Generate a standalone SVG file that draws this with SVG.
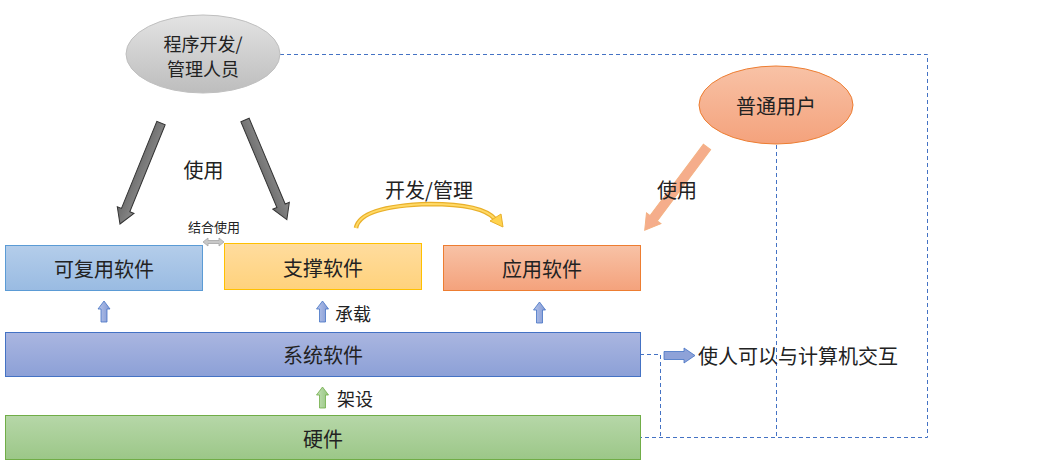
<svg xmlns="http://www.w3.org/2000/svg" width="1037" height="467" viewBox="0 0 1037 467">
<defs>
<linearGradient id="gGray" x1="0" y1="0" x2="0" y2="1"><stop offset="0" stop-color="#e3e3e3"/><stop offset="1" stop-color="#bdbdbd"/></linearGradient>
<linearGradient id="gOr" x1="0" y1="0" x2="0" y2="1"><stop offset="0" stop-color="#f8c2a6"/><stop offset="1" stop-color="#f4a27c"/></linearGradient>
<linearGradient id="gBlue" x1="0" y1="0" x2="0" y2="1"><stop offset="0" stop-color="#b4cdea"/><stop offset="1" stop-color="#99bbe2"/></linearGradient>
<linearGradient id="gYel" x1="0" y1="0" x2="0" y2="1"><stop offset="0" stop-color="#ffdc9e"/><stop offset="1" stop-color="#ffd27c"/></linearGradient>
<linearGradient id="gSys" x1="0" y1="0" x2="0" y2="1"><stop offset="0" stop-color="#aab6e0"/><stop offset="1" stop-color="#8ca0d7"/></linearGradient>
<linearGradient id="gHw" x1="0" y1="0" x2="0" y2="1"><stop offset="0" stop-color="#b6d7a8"/><stop offset="1" stop-color="#9cc788"/></linearGradient>
<linearGradient id="gDark" x1="0" y1="0" x2="0" y2="1"><stop offset="0" stop-color="#8a8a8a"/><stop offset="1" stop-color="#6a6a6a"/></linearGradient>
<linearGradient id="gUp" x1="0" y1="0" x2="1" y2="0"><stop offset="0" stop-color="#b5c4ea"/><stop offset="1" stop-color="#8298d3"/></linearGradient>
<linearGradient id="gUpG" x1="0" y1="0" x2="1" y2="0"><stop offset="0" stop-color="#c4e0b6"/><stop offset="1" stop-color="#94c47e"/></linearGradient>
</defs>
<style>
.t{font-family:"Noto Sans CJK SC","Noto Sans",sans-serif;fill:#222;}
.c{text-anchor:middle;dominant-baseline:central;}
.f18{font-size:18px;}
.f20{font-size:20px;}
.dash{fill:none;stroke:#4472c4;stroke-width:1;stroke-dasharray:4,3;}
.up{fill:url(#gUp);stroke:#4472c4;stroke-width:0.8;}
</style>

<g id="connectors">
<path class="dash" d="M280,54.5 H927.5 V437.5 H640"/>
<path class="dash" d="M776.5,145 V437.5"/>
<path class="dash" d="M640,354.5 H660.5 V437.5"/>
<!-- gray arrows -->
<path d="M0,-4.5 L94,-4.5 L94,-9 L109,0 L94,9 L94,4.5 L0,4.5 Z" fill="url(#gDark)" stroke="#333" stroke-width="1" transform="translate(161,123) rotate(112.1)"/>
<path d="M0,-4.5 L93,-4.5 L93,-9 L108,0 L93,9 L93,4.5 L0,4.5 Z" fill="url(#gDark)" stroke="#333" stroke-width="1" transform="translate(245,120) rotate(67.2)"/>
<!-- orange arrow -->
<path d="M0,-4.5 L89,-4.5 L89,-9 L104,0 L89,9 L89,4.5 L0,4.5 Z" fill="#f5ad8b" stroke="#f4b183" stroke-width="1" transform="translate(707,147) rotate(126.8)"/>
<!-- yellow curved arrow -->
<path d="M356,228 Q360,206 430,204 Q482,204 495,219" fill="none" stroke="#e9b02a" stroke-width="4.5"/>
<path d="M356,228 Q360,206 430,204 Q482,204 495,219" fill="none" stroke="#ffd966" stroke-width="2"/>
<path d="M490,221 L501,214 L503,227 Z" fill="#ffd34f" stroke="#e9b02a" stroke-width="1"/>
<!-- gray double arrow -->
<path d="M203,242 L208,238 L208,240.5 L219,240.5 L219,238 L224,242 L219,246 L219,243.5 L208,243.5 L208,246 Z" fill="#c8c8c8" stroke="#a6a6a6" stroke-width="0.8"/>
<!-- up arrows -->
<path class="up" d="M104,301 L110,309 L107,309 L107,322 L101,322 L101,309 L98,309 Z"/>
<path class="up" d="M322.5,301 L328.5,309 L325.5,309 L325.5,322 L319.5,322 L319.5,309 L316.5,309 Z"/>
<path class="up" d="M539.5,302 L545.5,310 L542.5,310 L542.5,323 L536.5,323 L536.5,310 L533.5,310 Z"/>
<path d="M322.5,387 L328.5,395 L325.5,395 L325.5,408 L319.5,408 L319.5,395 L316.5,395 Z" fill="url(#gUpG)" stroke="#70ad47" stroke-width="0.8"/>
<!-- right arrow -->
<path d="M664,351.5 L684,351.5 L684,348 L695,355.5 L684,363 L684,359.5 L664,359.5 Z" fill="#8ea2d8" stroke="#4472c4" stroke-width="0.8"/>
</g>

<g id="labels">
<text class="t c f20" x="203.5" y="169">使用</text>
<text class="t c" x="214" y="226" font-size="13">结合使用</text>
<text class="t c f20" x="429" y="189">开发/管理</text>
<text class="t c f20" x="677" y="189">使用</text>
<text class="t c f18" x="353" y="313">承载</text>
<text class="t c f18" x="355" y="398">架设</text>
<text class="t f20" x="698" y="355" dominant-baseline="central">使人可以与计算机交互</text>
</g>

<g id="node-dev">
<ellipse cx="203" cy="54" rx="77" ry="39" fill="url(#gGray)" stroke="#bfbfbf" stroke-width="1"/>
<text class="t c f18" x="203" y="43">程序开发/</text>
<text class="t c f18" x="203" y="68">管理人员</text>
</g>
<g id="node-user">
<ellipse cx="776" cy="105" rx="77" ry="39" fill="url(#gOr)" stroke="#ed7d31" stroke-width="1"/>
<text class="t c f20" x="776" y="105">普通用户</text>
</g>
<g id="node-reuse">
<rect x="5.5" y="245.5" width="197" height="45" fill="url(#gBlue)" stroke="#5b9bd5" stroke-width="1"/>
<text class="t c f20" x="104" y="268">可复用软件</text>
</g>
<g id="node-support">
<rect x="224.5" y="243.5" width="197" height="46" fill="url(#gYel)" stroke="#ffc000" stroke-width="1"/>
<text class="t c f20" x="323" y="267">支撑软件</text>
</g>
<g id="node-app">
<rect x="443.5" y="245.5" width="197" height="45" fill="url(#gOr)" stroke="#ed7d31" stroke-width="1"/>
<text class="t c f20" x="542" y="268">应用软件</text>
</g>
<g id="node-sys">
<rect x="5.5" y="332.5" width="635" height="44" fill="url(#gSys)" stroke="#4472c4" stroke-width="1"/>
<text class="t c f20" x="323" y="354">系统软件</text>
</g>
<g id="node-hw">
<rect x="5.5" y="415.5" width="635" height="44" fill="url(#gHw)" stroke="#70ad47" stroke-width="1"/>
<text class="t c f20" x="323" y="438">硬件</text>
</g>
</svg>
